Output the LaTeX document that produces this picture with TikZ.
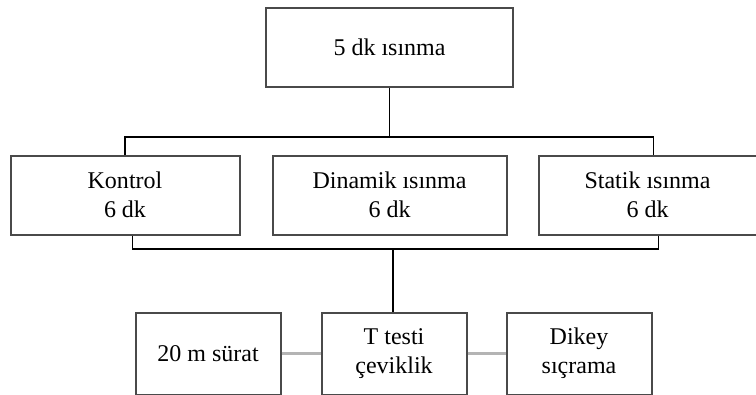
\documentclass[tikz,border=0pt]{standalone}
\usepackage{fontspec}
\setmainfont{Liberation Serif}
\usepackage{xcolor}
\usepackage{tikz}
\usetikzlibrary{positioning}

\definecolor{kenar}{HTML}{4A4A4A}
\definecolor{acikgri}{HTML}{B4B4B4}

\begin{document}
\begin{tikzpicture}[x=0.75pt, y=-0.75pt,
        kutu/.style = {draw = kenar, line width = 1.5pt, align = center,
            inner sep = 0pt, font = \fontsize{18}{22}\selectfont},
        genis/.style = {kutu, minimum height = 59.25pt},
        dar/.style = {kutu, minimum height = 61.5pt, minimum width = 108.75pt},
        hat/.style = {draw, black, line width = 1.1pt},
        gri/.style = {draw = acikgri, line width = 2.25pt}]
    \useasboundingbox (0,0) rectangle (756,394);

    \node [genis, minimum width = 185.25pt] (bas) at (389.5,47) {5 dk ısınma};
    \node [genis, minimum width = 175.5pt] (dinamik) [below = 50.25pt of bas] {Dinamik ısınma\\6 dk};
    \node [genis, minimum width = 171.75pt] (kontrol) [left = 23.25pt of dinamik] {Kontrol\\6 dk};
    \node [genis, minimum width = 163.5pt] (statik) [right = 22.5pt of dinamik] {Statik ısınma\\6 dk};

    \node [dar] (ttesti) [below = 57pt of dinamik, xshift = 3.4pt] {T testi\\çeviklik};
    \node [dar] (surat) [left = 29.25pt of ttesti] {20 m sürat};
    \node [dar] (dikey) [right = 28.5pt of ttesti] {Dikey\\sıçrama};

    \coordinate (ust) at (390,137);
    \coordinate (alt) at (393,249);

    % ust kol
    \draw [hat] (bas.south) -- (bas.south |- ust);
    \draw [hat] (kontrol.north) |- (ust) -| ([xshift = 4.5pt]statik.north);
    % alt kol
    \draw [hat] ([xshift = 5.6pt]kontrol.south) |- (alt) -| ([xshift = 8.25pt]statik.south);
    \draw [hat] (alt) -- (alt |- ttesti.north);

    \path [gri]
        (surat) edge (ttesti)
        (ttesti) edge (dikey);
\end{tikzpicture}
\end{document}
